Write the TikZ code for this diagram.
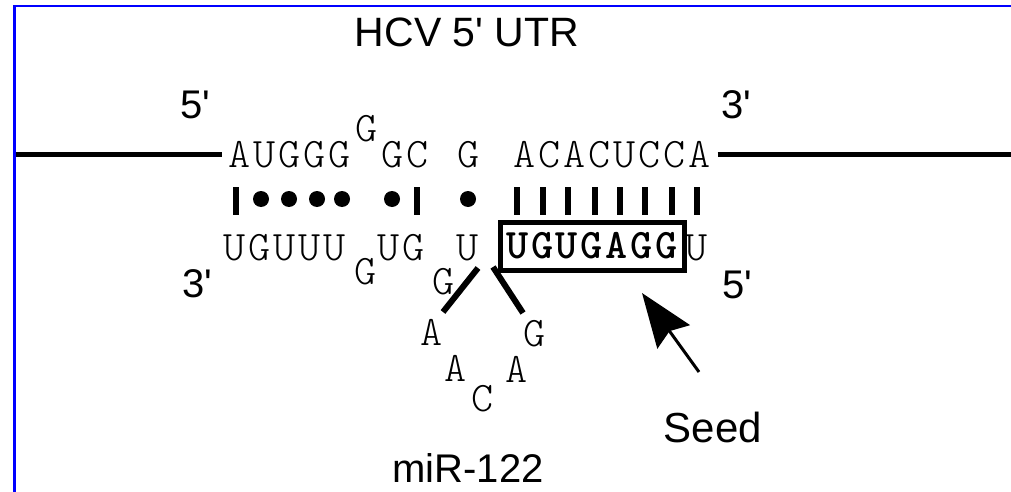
\documentclass[tikz,border=0pt]{standalone}
\usepackage{fontspec}
\setmainfont{Liberation Sans}
\newfontfamily\seqfont{lmmonolt10-regular.otf}[BoldFont=lmmonolt10-bold.otf,LetterSpace=7]
\usetikzlibrary{arrows.meta}
\definecolor{frameblue}{RGB}{0,0,255}
\newcommand{\prm}{\textquotesingle}

\tikzset{
  seq/.style={font=\seqfont\fontsize{42}{46}\selectfont,inner sep=0pt,anchor=base},
  lbl/.style={font=\fontsize{40}{46}\selectfont,inner sep=0pt,anchor=base},
  strand/.style={line width=5pt},
  pairbar/.style={line width=6pt},
  loopline/.style={line width=6pt},
}

\begin{document}
\begin{tikzpicture}[x=1pt,y=-1pt]
	\def\bartop{187};
	\def\barbot{215};
	\def\pairy{199};
	\useasboundingbox (0,0) rectangle (1011,492);
	\draw[frameblue,line width=2.5pt] (14.5,492) -- (14.5,6) -- (1011,6);
	\node[lbl,font=\fontsize{41}{46}\selectfont] (title) at (467,47) {HCV 5\prm{} UTR};
	% HCV strand
	\node[seq] (top1) at (290,167) {AUGGG};
	\node[seq] (topbulge) at (367,141) {G};
	\node[seq] (top2) at (405,167) {GC};
	\node[seq] (top3) at (469,167) {G};
	\node[seq] (top4) at (612,167) {ACACUCCA};
	\coordinate (fiveend) at (16,154);
	\coordinate (threeend) at (1011,154);
	\draw[strand,shorten >=7pt] (fiveend) -- (top1.west |- fiveend);
	\draw[strand,shorten <=7pt] (top4.east |- threeend) -- (threeend);
	% pairing
	\foreach \x in {236,417,517,543,568,595,620,645,672,697}
		\draw[pairbar] (\x,\bartop) -- (\x,\barbot);
	\foreach \x in {261,289,317,342,392,468}
		\fill (\x,\pairy) circle (8pt);
	% miR-122 strand
	\node[seq] (bot1) at (285,260) {UGUUU};
	\node[seq] (botbulgeA) at (366,284) {G};
	\node[seq] (bot2) at (401,260) {UG};
	\node[seq] (bot3) at (468,260) {U};
	\node[seq] (botbulgeB) at (444,294) {G};
	\node[seq,anchor=center,draw,line width=5pt,minimum width=184pt,minimum height=48pt,
		font=\seqfont\bfseries\fontsize{42}{46}\selectfont] (seed) at (592,246) {UGUGAGG};
	\node[seq] (bot5) at (697,260) {U};
	% loop
	\coordinate (stemL) at (478,268);
	\coordinate (loopL) at (443,312);
	\coordinate (stemR) at (493,267);
	\coordinate (loopR) at (523,313);
	\draw[loopline] (stemL) -- (loopL);
	\draw[loopline] (stemR) -- (loopR);
	\node[seq] (lpA1) at (432,345) {A};
	\node[seq] (lpA2) at (456,381) {A};
	\node[seq] (lpC) at (483,411) {C};
	\node[seq] (lpA3) at (517,382) {A};
	\node[seq] (lpG) at (535,346) {G};
	% ends
	\node[lbl] (fivetop) at (195,119) {5\prm};
	\node[lbl] (threetop) at (736,118) {3\prm};
	\node[lbl] (threebot) at (197,297) {3\prm};
	\node[lbl] (fivebot) at (737,298) {5\prm};
	% seed arrow
	\node[lbl,font=\fontsize{42}{48}\selectfont] (seedlbl) at (713,442) {Seed};
	\coordinate (seedtail) at (699,372);
	\coordinate (seedtip) at (642,293);
	\draw[line width=3pt,-{Stealth[length=54pt,width=40pt,inset=7pt]}] (seedtail) -- (seedtip);
	\node[lbl,font=\fontsize{40}{46}\selectfont] (mirlbl) at (468,482) {miR-122};
\end{tikzpicture}
\end{document}
